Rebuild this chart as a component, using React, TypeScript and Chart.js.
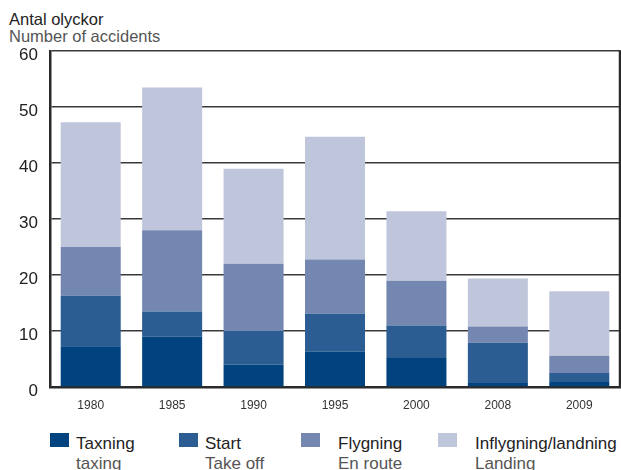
import React, { useEffect, useRef } from "react";
import { Chart, registerables } from "chart.js";

Chart.register(...registerables);

const years = ["1980", "1985", "1990", "1995", "2000", "2008", "2009"];
const taxning = [7.3, 9, 4, 6.3, 5.2, 0.7, 0.9];
const start = [9, 4.5, 6, 6.8, 5.8, 7.2, 1.6];
const flygning = [8.7, 14.5, 12, 9.7, 8, 2.9, 3.1];
const landning = [22.3, 25.5, 17, 21.9, 12.4, 8.6, 11.5];
const yTicks = [0, 10, 20, 30, 40, 50, 60];

const seriesNames = [
  ["Taxning", "taxing"],
  ["Start", "Take off"],
  ["Flygning", "En route"],
  ["Inflygning/landning", "Landing"],
];
const colors = ["#00437f", "#2b5d92", "#7387b1", "#bfc5da"];
const legendSquareX = [50, 179, 301, 438];
const legendTextX = [76, 205, 338, 475];

const FONT = "'Liberation Sans', Arial, Helvetica, sans-serif";

const rightBorder = {
  id: "rightBorder",
  afterDraw(chart: any) {
    const { ctx, chartArea } = chart;
    ctx.save();
    ctx.strokeStyle = "#2a2a2a";
    ctx.lineWidth = 2.5;
    ctx.beginPath();
    ctx.moveTo(chartArea.right, chartArea.top - 1);
    ctx.lineTo(chartArea.right, chartArea.bottom);
    ctx.stroke();
    ctx.restore();
  },
};

export default function App() {
  const ref = useRef<HTMLCanvasElement | null>(null);

  useEffect(() => {
    if (!ref.current) return;
    const seriesData = [taxning, start, flygning, landning];
    const chart = new Chart(ref.current, {
      type: "bar",
      data: {
        labels: years,
        datasets: seriesData.map((d, i) => ({
          label: seriesNames[i][0],
          data: d,
          backgroundColor: colors[i],
          borderWidth: 0,
          barPercentage: 0.737,
          categoryPercentage: 1,
        })),
      },
      options: {
        animation: false,
        responsive: true,
        maintainAspectRatio: false,
        layout: { padding: { top: 2, right: 1, left: 0, bottom: 0 } },
        plugins: {
          legend: { display: false },
          tooltip: { enabled: false },
          title: { display: false },
        },
        scales: {
          x: {
            stacked: true,
            grid: { display: false, drawTicks: false },
            border: { display: true, color: "#2a2a2a", width: 2.5 },
            ticks: {
              color: "#333",
              padding: 11,
              font: { family: FONT, size: 12 },
            },
            afterFit(scale: any) {
              scale.height = 33;
            },
          },
          y: {
            stacked: true,
            min: 0,
            max: 60,
            afterBuildTicks(scale: any) {
              scale.ticks = yTicks.map((v) => ({ value: v }));
            },
            grid: { color: "#3a3a3a", lineWidth: 1.5, drawTicks: false },
            border: { display: true, color: "#2a2a2a", width: 2.5 },
            ticks: {
              color: "#222",
              padding: 12,
              labelOffset: 4,
              font: { family: FONT, size: 17 },
            },
            afterFit(scale: any) {
              scale.width = 50;
            },
          },
        },
      },
      plugins: [rightBorder],
    });
    return () => chart.destroy();
  }, []);

  const textBase: React.CSSProperties = {
    position: "absolute",
    fontFamily: FONT,
    whiteSpace: "nowrap",
    margin: 0,
  };

  return (
    <div
      style={{
        position: "absolute",
        left: 0,
        top: 0,
        width: 621,
        height: 470,
        overflow: "hidden",
        background: "#fff",
      }}
    >
      <div style={{ ...textBase, left: 9, top: 11, fontSize: 16.5, lineHeight: "16.5px", color: "#222" }}>
        Antal olyckor
      </div>
      <div style={{ ...textBase, left: 9, top: 28, fontSize: 16.5, lineHeight: "16.5px", color: "#555" }}>
        Number of accidents
      </div>
      <div style={{ position: "absolute", left: 0, top: 29, width: 621, height: 391 }}>
        <canvas ref={ref} />
      </div>
      {seriesNames.map((n, i) => (
        <React.Fragment key={n[0]}>
          <div
            style={{
              position: "absolute",
              left: legendSquareX[i],
              top: 433,
              width: 19,
              height: 14,
              background: colors[i],
            }}
          />
          <div style={{ ...textBase, left: legendTextX[i], top: 434.6, fontSize: 17, lineHeight: "17px", color: "#222" }}>
            {n[0]}
          </div>
          <div style={{ ...textBase, left: legendTextX[i], top: 455, fontSize: 17, lineHeight: "17px", color: "#555" }}>
            {n[1]}
          </div>
        </React.Fragment>
      ))}
    </div>
  );
}
